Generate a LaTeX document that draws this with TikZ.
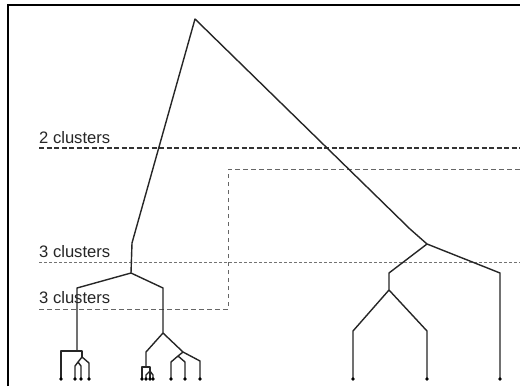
\documentclass[tikz,border=0pt]{standalone}
\usepackage{fontspec}
\setmainfont{Liberation Sans}
\usetikzlibrary{calc}

\begin{document}
\begin{tikzpicture} [x=1pt, y=-1pt,
  tree/.style={black!85, line width=1.4pt, line join=round},
  cutA/.style={black!80, line width=1.1pt, dash pattern=on 5pt off 2.5pt},
  cutB/.style={black!55, line width=1pt, dash pattern=on 3pt off 2pt},
  cutC/.style={black!60, line width=0.9pt, dash pattern=on 4.5pt off 3.5pt},
  lbl/.style={anchor=base west, inner sep=0pt, text=black!85, font=\fontsize{16.6}{18}\selectfont}]
\useasboundingbox (0,0) rectangle (520,386);
\fill[white] (0,0) rectangle (520,386);

% frame
\draw[line width=1.6pt] (8,386) -- (8,5) -- (520,5);

% merge points
\coordinate (root) at (195,19);
\coordinate (Lk) at (132,243);
\coordinate (L) at (131,273);
\coordinate (Rk) at (410,229);
\coordinate (R) at (427,244);
\coordinate (a1) at (77,351);
\coordinate (a2) at (82,357);
\coordinate (a3) at (78,362);
\coordinate (b0) at (163,333);
\coordinate (b1) at (146,367);
\coordinate (b2) at (150,371);
\coordinate (b3) at (183,352);
\coordinate (b4) at (178,356);
\coordinate (c1) at (389,290);

% cut levels
\draw[cutA] (39,148) -- (520,148);
\draw[cutB] (39,262) -- (520,262);
\draw[cutC] (39,309) -- (228,309) -- (228,169) -- (520,169);

\node[lbl] (two) at (39,143) {2 clusters};
\node[lbl] (threeA) at (39,257) {3 clusters};
\node[lbl] (threeB) at (39,303) {3 clusters};

% top of the tree
\draw[tree] (L) -- (Lk) -- (root) -- (Rk) -- (R);

% left part
\draw[tree] (a1) -- (77,288) -- (L) -- (163,288) -- (b0);
\draw[tree] (61,379) -- (61,351) -- (82,351) -- (a2);
\draw[tree] (a2) -- (89,363) -- (89,379);
\draw[tree] (a2) -- (a3);
\draw[tree] (a3) -- (75,366) -- (75,379);
\draw[tree] (a3) -- (81,366) -- (81,379);

\draw[tree] (b0) -- (146,352) -- (b1);
\draw[tree] (142,379) -- (142,367) -- (150,367) -- (b2);
\draw[tree] (b2) -- (146,375) -- (146,379);
\draw[tree] (b2) -- (150,379);
\draw[tree] (b2) -- (153,375) -- (153,379);
\draw[tree] (b0) -- (b3) -- (200,361) -- (200,379);
\draw[tree] (b3) -- (b4);
\draw[tree] (b4) -- (171,362) -- (171,379);
\draw[tree] (b4) -- (185,362) -- (185,379);

% right part
\draw[tree] (R) -- (500,273) -- (500,379);
\draw[tree] (R) -- (389,273) -- (c1);
\draw[tree] (c1) -- (353,331) -- (353,379);
\draw[tree] (c1) -- (427,331) -- (427,379);

% leaves
\foreach \x in {61,75,81,89,142,146,150,153,171,185,200,353,427,500} \fill[black] (\x,379) circle (1.9);
\end{tikzpicture}
\end{document}
